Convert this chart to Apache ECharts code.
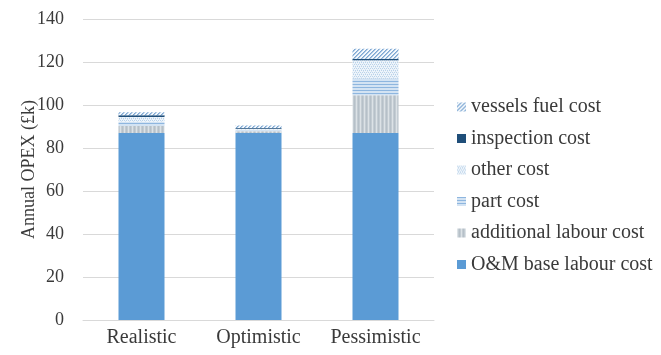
<!DOCTYPE html>
<html>
<head>
<meta charset="utf-8">
<script src="https://cdn.jsdelivr.net/npm/echarts@6/dist/echarts.min.js"></script>
<style>
  html, body { margin: 0; padding: 0; background: #fff; }
  #chart { width: 661px; height: 355px; }
</style>
</head>
<body>
<div id="chart"></div>
<script>
// Scenario categories
const scenarios = ['Realistic', 'Optimistic', 'Pessimistic'];

// Annual OPEX components (£k), stacked bottom to top
const baseLabour       = [87, 87, 87];
const additionalLabour = [3.2, 0.8, 17.5];
const partCost         = [1.9, 0.6, 7.8];
const otherCost        = [2.3, 0.6, 8.5];
const inspectionCost   = [0.8, 0.3, 0.7];
const vesselsFuelCost  = [1.4, 1.2, 4.7];

// Axis ticks
const yTicks = [0, 20, 40, 60, 80, 100, 120, 140];

// Small tiled canvas fills
function makePattern(w, h, draw) {
  const c = document.createElement('canvas');
  c.width = w; c.height = h;
  const ctx = c.getContext('2d');
  draw(ctx, w, h);
  return { image: c, repeat: 'repeat' };
}

const fillAdditional = makePattern(4, 4, (ctx, w, h) => {
  ctx.fillStyle = '#C3CCD3'; ctx.fillRect(0, 0, w, h);
  ctx.fillStyle = '#DCE2E6'; ctx.fillRect(0, 0, 1, h);
  ctx.fillStyle = '#B6C0C8'; ctx.fillRect(2, 0, 1, h);
});

const fillPart = makePattern(3, 3, (ctx, w, h) => {
  ctx.fillStyle = '#D3E3F3'; ctx.fillRect(0, 0, w, h);
  ctx.fillStyle = '#8EB6DF'; ctx.fillRect(0, 0, w, 1);
});

const fillOther = makePattern(4, 4, (ctx, w, h) => {
  ctx.fillStyle = '#EEF4FA'; ctx.fillRect(0, 0, w, h);
  ctx.fillStyle = '#B9D2EA';
  ctx.fillRect(0, 0, 1, 1); ctx.fillRect(2, 0, 1, 1);
  ctx.fillRect(1, 2, 1, 1); ctx.fillRect(3, 2, 1, 1);
  ctx.fillStyle = '#D4E4F3';
  ctx.fillRect(1, 1, 1, 1); ctx.fillRect(3, 3, 1, 1);
});

const fillFuel = makePattern(4, 4, (ctx, w, h) => {
  ctx.fillStyle = '#F4F8FC'; ctx.fillRect(0, 0, w, h);
  ctx.fillStyle = '#7FA8D2';
  for (let i = 0; i < 4; i++) ctx.fillRect(3 - i, i, 1, 1);
  ctx.fillStyle = '#A9C6E4';
  for (let i = 0; i < 4; i++) ctx.fillRect((4 - i) % 4, i, 1, 1);
});

const fontFamily = '"Liberation Serif", "Times New Roman", serif';
const textColor = '#3A3A3A';

function barSeries(name, data, color) {
  return {
    name: name,
    type: 'bar',
    stack: 'opex',
    barWidth: 46,
    data: data,
    itemStyle: { color: color },
    emphasis: { disabled: true }
  };
}

const chart = echarts.init(document.getElementById('chart'), null, { renderer: 'canvas' });

chart.setOption({
  animation: false,
  backgroundColor: '#ffffff',
  grid: { left: 83, right: 227, top: 19, bottom: 35 },
  legend: {
    orient: 'vertical',
    left: 452,
    top: 92,
    itemWidth: 9,
    itemHeight: 9,
    itemGap: 11.5,
    icon: 'rect',
    textStyle: { fontFamily: fontFamily, fontSize: 20, color: textColor, lineHeight: 20 },
    data: ['vessels fuel cost', 'inspection cost', 'other cost', 'part cost',
           'additional labour cost', 'O&M base labour cost']
  },
  xAxis: {
    type: 'category',
    data: scenarios,
    axisTick: { show: false },
    axisLine: { lineStyle: { color: '#D9D9D9', width: 1 } },
    axisLabel: { interval: 0, hideOverlap: false, fontFamily: fontFamily, fontSize: 20, color: textColor, margin: 8 }
  },
  yAxis: {
    type: 'value',
    min: yTicks[0],
    max: yTicks[yTicks.length - 1],
    interval: 20,
    name: 'Annual OPEX (£k)',
    nameLocation: 'middle',
    nameGap: 45,
    nameMoveOverlap: false,
    nameTextStyle: { fontFamily: fontFamily, fontSize: 18, color: textColor },
    axisLine: { show: false },
    axisTick: { show: false },
    splitLine: { lineStyle: { color: '#D9D9D9', width: 1 } },
    axisLabel: { fontFamily: fontFamily, fontSize: 18, color: textColor, margin: 19 }
  },
  series: [
    barSeries('O&M base labour cost', baseLabour, '#5B9BD5'),
    barSeries('additional labour cost', additionalLabour, fillAdditional),
    barSeries('part cost', partCost, fillPart),
    barSeries('other cost', otherCost, fillOther),
    barSeries('inspection cost', inspectionCost, '#1F4E79'),
    barSeries('vessels fuel cost', vesselsFuelCost, fillFuel)
  ]
});
</script>
</body>
</html>
